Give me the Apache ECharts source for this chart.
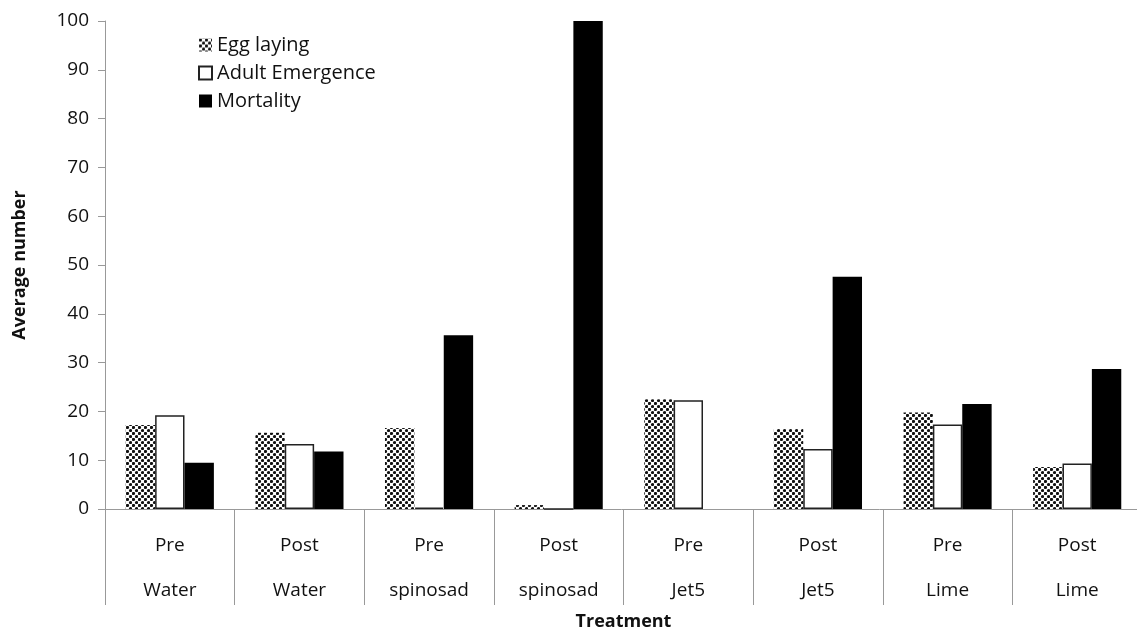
<!DOCTYPE html>
<html>
<head>
<meta charset="utf-8">
<script src="https://cdn.jsdelivr.net/npm/echarts@6/dist/echarts.min.js"></script>
<style>
  html, body { margin: 0; padding: 0; background: #fff; }
  #chart { width: 1137px; height: 632px; }
</style>
</head>
<body>
<div id="chart"></div>
<script>
// categories (timing + treatment)
var timing = ['Pre', 'Post', 'Pre', 'Post', 'Pre', 'Post', 'Pre', 'Post'];
var treatment = ['Water', 'Water', 'spinosad', 'spinosad', 'Jet5', 'Jet5', 'Lime', 'Lime'];

// series values
var eggLaying = [17.2, 15.6, 16.6, 0.8, 22.5, 16.4, 19.8, 8.6];
var adultEmergence = [19.2, 13.3, 0.3, 0, 22.3, 12.3, 17.3, 9.3];
var mortality = [9.5, 11.8, 35.6, 100, 0, 47.6, 21.5, 28.7];

var categories = timing.map(function (t, i) { return t + '\n' + treatment[i]; });

// dotted pattern for egg laying
function dotPattern() {
    var c = document.createElement('canvas');
    c.width = 6; c.height = 6;
    var ctx = c.getContext('2d');
    ctx.fillStyle = '#fff';
    ctx.fillRect(0, 0, 6, 6);
    ctx.fillStyle = '#111';
    [[1.5, 1.5], [4.5, 4.5]].forEach(function (p) {
        ctx.beginPath();
        ctx.arc(p[0], p[1], 1.6, 0, Math.PI * 2);
        ctx.fill();
    });
    return c;
}
var pattern = { image: dotPattern(), repeat: 'repeat' };

var myChart = echarts.init(document.getElementById('chart'));

var font = "'Open Sans', 'Noto Sans', sans-serif";

var option = {
    backgroundColor: '#fff',
    animation: false,
    textStyle: { fontFamily: font },
    legend: {
        orient: 'vertical',
        left: 193,
        top: 30,
        icon: 'rect',
        itemWidth: 13,
        itemHeight: 13,
        itemGap: 8,
        textStyle: { fontSize: 20, color: '#111', fontFamily: font },
        data: ['Egg laying', 'Adult Emergence', 'Mortality']
    },
    grid: { left: 105, right: -5, top: 21, bottom: 123, outerBoundsMode: 'none' },
    xAxis: {
        type: 'category',
        data: categories,
        name: 'Treatment',
        nameLocation: 'middle',
        nameGap: 104,
        nameMoveOverlap: false,
        nameTextStyle: { fontSize: 18, fontWeight: 'bold', color: '#111', fontFamily: font },
        axisLine: { lineStyle: { color: '#999', width: 1 } },
        axisTick: { show: true, length: 96, lineStyle: { color: '#999' } },
        axisLabel: { fontSize: 19, color: '#111', lineHeight: 45, margin: 14, interval: 0 }
    },
    yAxis: {
        type: 'value',
        min: 0,
        max: 100,
        interval: 10,
        name: 'Average number',
        nameLocation: 'middle',
        nameGap: 76,
        nameMoveOverlap: false,
        nameTextStyle: { fontSize: 18, fontWeight: 'bold', color: '#111', fontFamily: font },
        axisLine: { show: true, lineStyle: { color: '#999' } },
        axisTick: { show: true, length: 7, lineStyle: { color: '#999' } },
        axisLabel: { fontSize: 19, color: '#111', margin: 16 },
        splitLine: { show: false }
    },
    series: [
        {
            name: 'Egg laying',
            type: 'bar',
            data: eggLaying,
            barGap: '0%',
            barCategoryGap: '32%',
            itemStyle: { color: pattern }
        },
        {
            name: 'Adult Emergence',
            type: 'bar',
            data: adultEmergence,
            itemStyle: { color: '#fff', borderColor: '#222', borderWidth: 1.5 }
        },
        {
            name: 'Mortality',
            type: 'bar',
            data: mortality,
            itemStyle: { color: '#000' }
        }
    ]
};

myChart.setOption(option);
</script>
</body>
</html>
